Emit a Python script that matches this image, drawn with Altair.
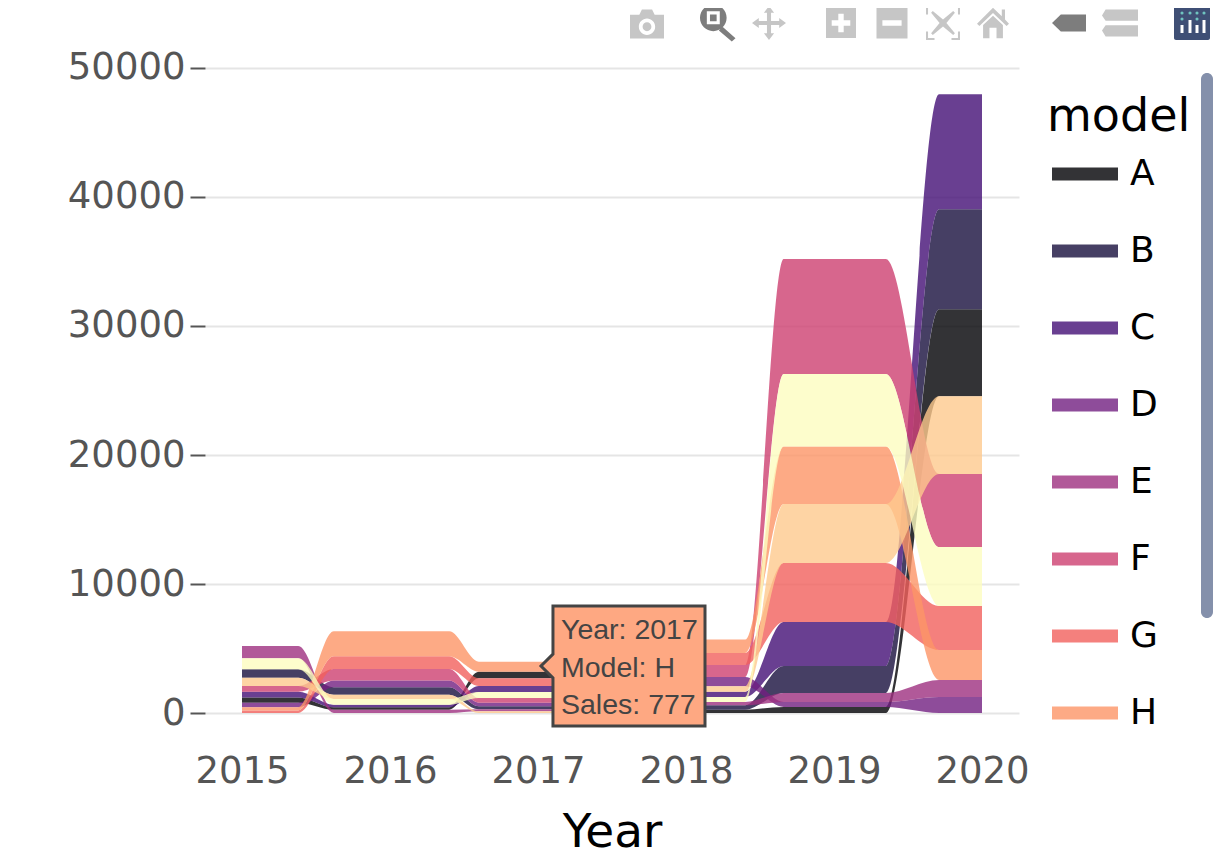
import altair as alt
import pandas as pd

models = list("ABCDEFGHIJ")
colors = ["#000004", "#180F3D", "#440F76", "#721F81", "#9E2F7F",
          "#CD4071", "#F1605D", "#FD9567", "#FEC98D", "#FCFDBF"]

# stack order per year, top to bottom, with the sales
order_2015 = list("EJBIFCADHG")
sales_2015 = [960, 850, 650, 650, 440, 440, 410, 360, 240, 200]
order_2016 = list("HGFDBIJCAE")
sales_2016 = [1940, 980, 900, 520, 570, 336, 440, 207, 181, 258]
order_2017 = list("HAGCJFDBEI")
sales_2017 = [777, 517, 594, 465, 465, 362, 284, 233, 155, 129]
order_2018 = list("HGFDICJEBA")
sales_2018 = [1030, 930, 930, 720, 440, 390, 390, 260, 340, 260]
order_2019 = list("FJHIGCBEDA")
sales_2019 = [8910, 5620, 4460, 4570, 4570, 3410, 2090, 700, 390, 465]
order_2020 = list("CBAIFJGHED")
sales_2020 = [8910, 7750, 6740, 6040, 5660, 4570, 3410, 2320, 1320, 1240]

years = [2015, 2016, 2017, 2018, 2019, 2020]
orders = [order_2015, order_2016, order_2017, order_2018, order_2019, order_2020]
sales = [sales_2015, sales_2016, sales_2017, sales_2018, sales_2019, sales_2020]
# where each year's flat stretch starts and ends
plateau_start = [2015.00, 2015.62, 2016.60, 2017.60, 2018.66, 2019.71]
plateau_end = [2015.38, 2016.40, 2017.40, 2018.40, 2019.35, 2020.00]

rows = []
for yr, order, vals, p0, p1 in zip(years, orders, sales, plateau_start, plateau_end):
    base = 0
    stacked = {}
    for m, v in zip(reversed(order), reversed(vals)):
        stacked[m] = (base, base + v)
        base += v
    for m in models:
        lo, hi = stacked[m]
        for x in sorted({p0, p1}):
            rows.append({"x": x, "model": m, "lo": lo, "hi": hi})
df = pd.DataFrame(rows)

ytop, ybot = 50930, -930
x_scale = alt.Scale(domain=[2014.75, 2020.25], nice=False, zero=False)
y_scale = alt.Scale(domain=[ybot, ytop], nice=False, zero=False)

ribbon = alt.Chart(df).mark_area(interpolate="monotone", opacity=0.8, clip=False).encode(
    x=alt.X("x:Q", scale=x_scale, axis=alt.Axis(
        values=years, format="d", title="Year", grid=False, domain=False, ticks=False,
        labelFontSize=37, labelColor="#555555", labelFont="DejaVu Sans", labelPadding=28,
        titleFontSize=47, titleFont="DejaVu Sans", titleFontWeight="normal",
        titleColor="black", titlePadding=20, labelFlush=False, labelOverlap=False)),
    y=alt.Y("lo:Q", scale=y_scale, axis=alt.Axis(
        values=[0, 10000, 20000, 30000, 40000, 50000], format="d", title=None,
        grid=True, gridColor="#e5e5e5", gridWidth=2, domain=False,
        tickSize=15, tickColor="#555555", tickWidth=2, labelPadding=5,
        labelFontSize=37, labelColor="#555555", labelFont="DejaVu Sans")),
    y2="hi:Q",
    detail="model:N",
    fill=alt.Fill("model:N", scale=alt.Scale(domain=models, range=colors), legend=alt.Legend(
        values=models[:8], title=None, orient="none", legendX=846, legendY=84,
        symbolType="M-1,-0.2H1V0.2H-1Z", symbolSize=4356, symbolOpacity=0.8,
        rowPadding=25, labelOffset=11, labelFontSize=36, labelFont="DejaVu Sans",
        labelColor="black")),
)

legend_title = alt.Chart(pd.DataFrame({"t": ["model"]})).mark_text(
    align="left", baseline="alphabetic", font="DejaVu Sans", fontSize=46, color="black"
).encode(x=alt.value(1047 - 205), y=alt.value(131 - 56), text="t:N")

# hover label
tip_path = "M-0.854,-0.732H1V0.732H-0.854V0.146L-1,0L-0.854,-0.146Z"
tip_anchor = alt.Chart(pd.DataFrame({"x": [2017], "y": [777]})).mark_point(
    shape=tip_path, size=26896, filled=True, fill="#FEA882", stroke="#444444",
    strokeWidth=3, opacity=1).encode(x=alt.value(418), y=alt.value(610))
tip_lines = ["Year: 2017", "Model: H", "Sales: 777"]
tip_y = [583, 621, 658]
tip_text = alt.Chart(pd.DataFrame({"t": tip_lines, "py": tip_y})).mark_text(
    align="left", baseline="alphabetic", font="Liberation Sans", fontSize=28.5,
    color="#444444").encode(x=alt.value(356), y=alt.Y("py:Q", scale=None), text="t:N")

# modebar icons: path, centre x, centre y on the page, box size, colour
LG, DG = "#c6c6c6", "#7d7d7d"
icons = [
    ("M-1,-0.55H-0.45L-0.3,-0.85H0.3L0.45,-0.55H1V0.85H-1ZM0,-0.32A0.48,0.48 0 1 0 0,0.64A0.48,0.48 0 1 0 0,-0.32ZM0,-0.1A0.26,0.26 0 1 1 0,0.42A0.26,0.26 0 1 1 0,-0.1Z", 647, 24, 34, LG),
    ("M-0.2,-1A0.72,0.72 0 1 1 -0.2,0.44A0.72,0.72 0 1 1 -0.2,-1ZM-0.55,-0.63V0.07H0.15V-0.63ZM-0.38,-0.46H-0.02V-0.1H-0.38ZM0.3,0.2L1,0.82L0.8,1L0.1,0.4Z", 717, 23, 37, DG),
    ("M0,-1L0.3,-0.6H0.12V-0.12H0.6V-0.3L1,0L0.6,0.3V0.12H0.12V0.6H0.3L0,1L-0.3,0.6H-0.12V0.12H-0.6V0.3L-1,0L-0.6,-0.3V-0.12H-0.12V-0.6H-0.3Z", 769, 23, 34, LG),
    ("M-1,-1H1V1H-1ZM-0.18,-0.62V-0.18H-0.62V0.18H-0.18V0.62H0.18V0.18H0.62V-0.18H0.18V-0.62Z", 841, 23, 30, LG),
    ("M-1,-1H1V1H-1ZM-0.62,-0.18V0.18H0.62V-0.18Z", 892, 23, 31, LG),
    ("M-1,-1H-0.5V-0.88H-0.88V-0.5H-1ZM0.5,-1H1V-0.5H0.88V-0.88H0.5ZM-1,0.5H-0.88V0.88H-0.5V1H-1ZM0.88,0.5H1V1H0.5V0.88H0.88ZM-0.6,-0.7L0,-0.2L0.6,-0.7L0.7,-0.6L0.2,0L0.7,0.6L0.6,0.7L0,0.2L-0.6,0.7L-0.7,0.6L-0.2,0L-0.7,-0.6Z", 943, 23, 34, LG),
    ("M0,-0.95L0.55,-0.42V-0.85H0.75V-0.22L1,0.05L0.85,0.18L0,-0.62L-0.85,0.18L-1,0.05ZM-0.62,0.12L0,-0.45L0.62,0.12V0.95H0.22V0.3H-0.22V0.95H-0.62Z", 993, 23, 32, LG),
    ("M-1,0L-0.48,-0.5H1V0.5H-0.48Z", 1069, 23, 34, DG),
    ("M-0.8,-0.75H1V-0.12H-0.8L-1,-0.42ZM-0.8,0.12H1V0.75H-0.8L-1,0.42Z", 1120, 23, 36, LG),
]
layers = [ribbon, legend_title, tip_anchor, tip_text]
for path, cx, cy, box, col in icons:
    layers.append(alt.Chart(pd.DataFrame({"k": [0]})).mark_point(
        shape=path, size=box * box, filled=True, fill=col, opacity=1, strokeWidth=0
    ).encode(x=alt.value(cx - 205), y=alt.value(cy - 56)))

# plotly logo tile
logo = alt.Chart(pd.DataFrame({"k": [0]})).mark_rect(
    fill="#3F4F75", cornerRadius=2).encode(
    x=alt.value(1174 - 205), x2=alt.value(1210 - 205), y=alt.value(6 - 56), y2=alt.value(40 - 56))
logo_cols = [1182, 1190, 1197, 1204]
logo_tops = [25, 20, 25, 20]
logo_bars = alt.Chart(pd.DataFrame({"px": [x - 205 for x in logo_cols],
                                    "top": [t - 56 for t in logo_tops]})).mark_rule(
    color="white", strokeWidth=3).encode(
    x=alt.X("px:Q", scale=None), y=alt.Y("top:Q", scale=None), y2=alt.value(33 - 56))
logo_dots = alt.Chart(pd.DataFrame({"px": [x - 205 for x in logo_cols + logo_cols[::2]],
                                    "py": [13 - 56] * 4 + [19 - 56] * 2})).mark_circle(
    color="#6FC5C0", size=10, opacity=1).encode(
    x=alt.X("px:Q", scale=None), y=alt.Y("py:Q", scale=None))

# scrollbar thumb on the right
scrollbar = alt.Chart(pd.DataFrame({"k": [0]})).mark_rect(
    fill="#8490AB", cornerRadius=6).encode(
    x=alt.value(1201 - 205), x2=alt.value(1213 - 205), y=alt.value(73 - 56), y2=alt.value(618 - 56))

layers += [logo, logo_bars, logo_dots, scrollbar]

chart = alt.layer(*layers).resolve_scale(x="shared", y="shared").properties(
    width=814, height=669,
    padding={"left": 197, "top": 48, "right": 201, "bottom": 132},
    autosize=alt.AutoSizeParams(type="none"),
    background="white",
).configure_view(stroke=None)

chart.save("out.html", embed_options={"renderer": "svg", "actions": False})
